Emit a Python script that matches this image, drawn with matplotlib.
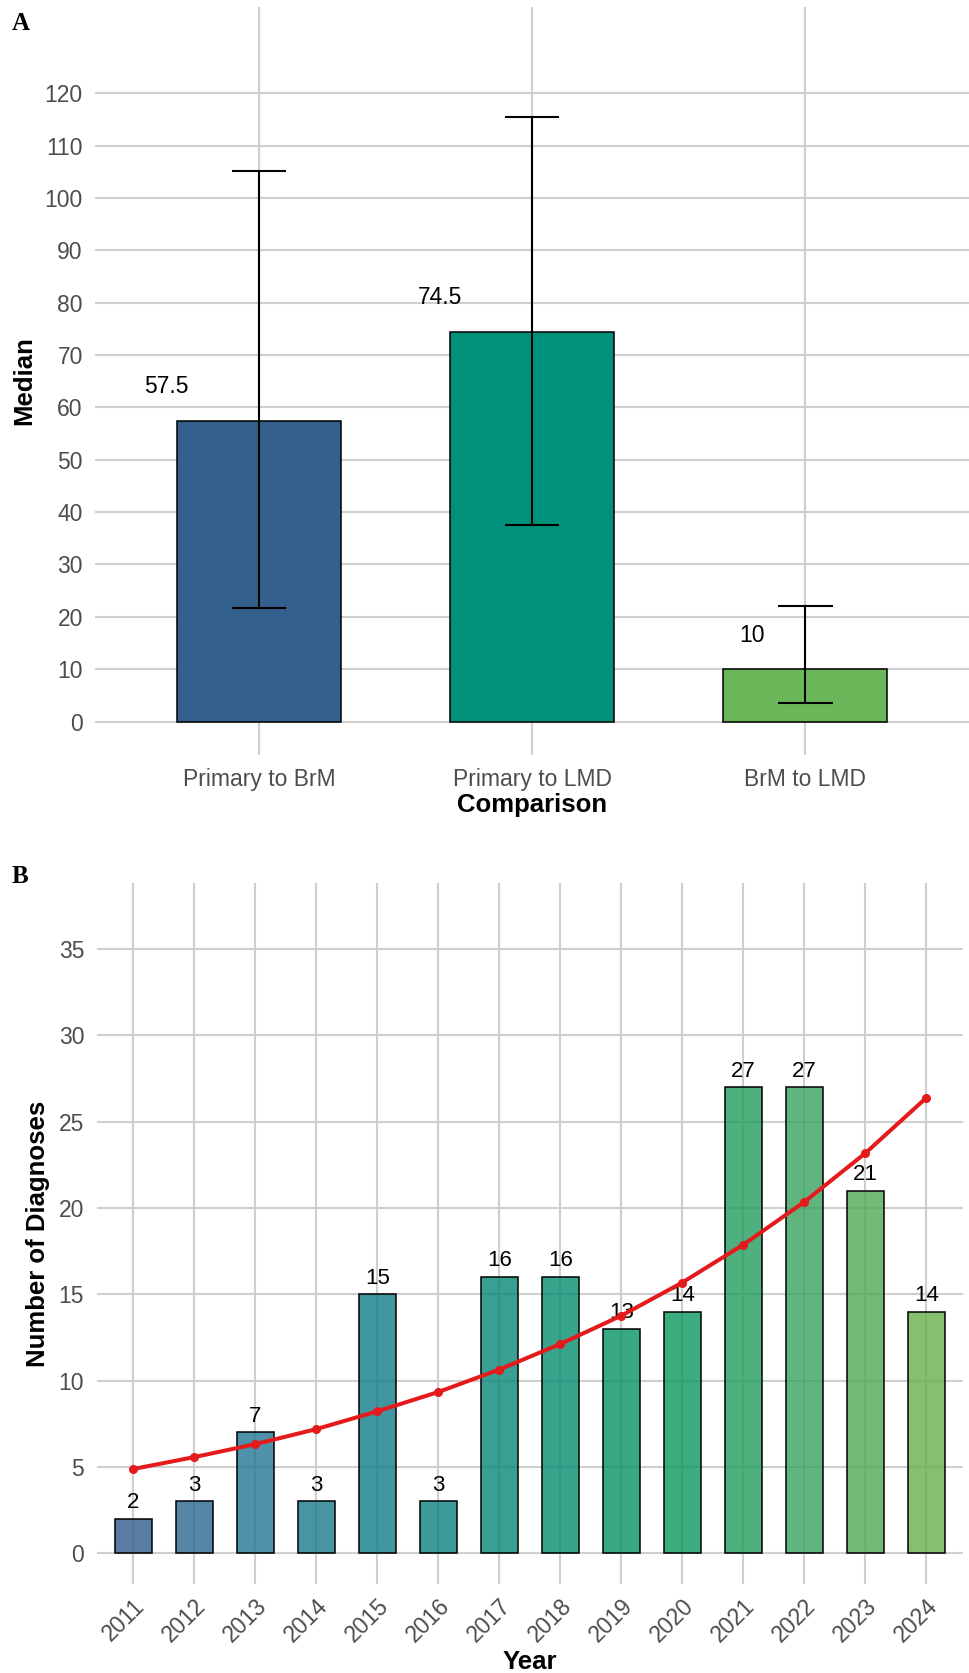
import matplotlib.pyplot as plt
from matplotlib.colors import LinearSegmentedColormap

plt.rcParams['font.family'] = ['Liberation Sans', 'DejaVu Sans']

# Panel A: median time intervals
comparisons = ['Primary to BrM', 'Primary to LMD', 'BrM to LMD']
medians = [57.5, 74.5, 10]
lower = [21.6, 37.5, 3.6]
upper = [105.2, 115.4, 22.1]
bar_colors = ['#33608D', '#00917A', '#6BB85A']

# Panel B: diagnoses per year
years = [2011, 2012, 2013, 2014, 2015, 2016, 2017, 2018, 2019, 2020, 2021, 2022, 2023, 2024]
counts = [2, 3, 7, 3, 15, 3, 16, 16, 13, 14, 27, 27, 21, 14]
trend = [4.88, 5.57, 6.32, 7.19, 8.22, 9.34, 10.64, 12.12, 13.76, 15.68, 17.87, 20.35, 23.17, 26.38]

grid_col = '#cfcfcf'
tick_col = '#4d4d4d'

fig = plt.figure(figsize=(9.7, 16.73), dpi=100)

# ---------------- Panel A ----------------
ax1 = fig.add_axes([0.0982, 0.5487, 0.9009, 0.4471])
x = list(range(len(comparisons)))
ax1.bar(x, medians, width=0.6, color=bar_colors, edgecolor='black', linewidth=1.1, zorder=2)
ax1.vlines(x, lower, upper, color='black', linewidth=1.5, zorder=3)
ax1.hlines(lower, [i - 0.1 for i in x], [i + 0.1 for i in x], color='black', linewidth=1.5, zorder=3)
ax1.hlines(upper, [i - 0.1 for i in x], [i + 0.1 for i in x], color='black', linewidth=1.5, zorder=3)

labs = []
for i, v in zip(x, medians):
    t = ax1.annotate(f'{v:g}', xy=(i, v + 6.5), xytext=(0, 0), textcoords='offset pixels',
                     ha='left', va='center', fontsize=16.5, color='black', zorder=4)
    labs.append(t)

ax1.set_xlim(-0.6, 2.6)
ax1.set_ylim(-6.4, 136.5)
ax1.set_yticks(range(0, 121, 10))
ax1.set_xticks(x)
ax1.set_xticklabels(comparisons)
ax1.set_xlabel('Comparison', fontsize=18.5, fontweight='bold', labelpad=2)
ax1.set_ylabel('Median', fontsize=18.5, fontweight='bold', labelpad=6)

# ---------------- Panel B ----------------
ax2 = fig.add_axes([0.0997, 0.0530, 0.8930, 0.4190])
# gradient fill by year (ggplot style), bars drawn with alpha 0.8
cmap = LinearSegmentedColormap.from_list('grad', [
    (0.0, '#305B8E'), (2 / 13, '#237692'), (4 / 13, '#0F7C86'), (6.5 / 13, '#058A74'),
    (9 / 13, '#09975D'), (11 / 13, '#37A35D'), (1.0, '#68AF4C')])
fills = []
for y in years:
    r, g, b, _ = cmap((y - years[0]) / (years[-1] - years[0]))
    fills.append((r, g, b, 0.8))
ax2.bar(years, counts, width=0.6, color=fills, edgecolor='black', linewidth=1.1, zorder=2)
for yr, c in zip(years, counts):
    ax2.annotate(str(c), xy=(yr, c), xytext=(0, 4), textcoords='offset points',
                 ha='center', va='bottom', fontsize=16, color='black', zorder=4)
ax2.plot(years, trend, color='#E41A1C', linewidth=2.9, marker='o', markersize=5.5, zorder=5)

ax2.set_xlim(years[0] - 0.6, years[-1] + 0.6)
ax2.set_ylim(-1.8, 38.8)
ax2.set_yticks(range(0, 36, 5))
ax2.set_xticks(years)
ax2.set_xticklabels([str(y) for y in years], rotation=45, ha='right', va='top', rotation_mode='anchor')
ax2.set_xlabel('Year', fontsize=18.5, fontweight='bold', labelpad=3)
ax2.set_ylabel('Number of Diagnoses', fontsize=18.5, fontweight='bold', labelpad=6)

for ax in (ax1, ax2):
    for s in ax.spines.values():
        s.set_visible(False)
    ax.grid(True, color=grid_col, linewidth=1.5, zorder=0)
    ax.set_axisbelow(True)
    ax.tick_params(length=0, labelsize=16.5, colors=tick_col, pad=9)
ax2.tick_params(axis='x', pad=7)

fig.text(0.021, 0.986, 'A', family='Liberation Serif', fontweight='bold', fontsize=18, ha='center', va='center')
fig.text(0.021, 0.476, 'B', family='Liberation Serif', fontweight='bold', fontsize=18, ha='center', va='center')

# shift the median labels left of the bar centre, like hjust in ggplot
fig.canvas.draw()
for t in labs:
    w = t.get_window_extent().width
    t.xyann = (-2.58 * w, 0)

fig.savefig('out.png', dpi=100)
